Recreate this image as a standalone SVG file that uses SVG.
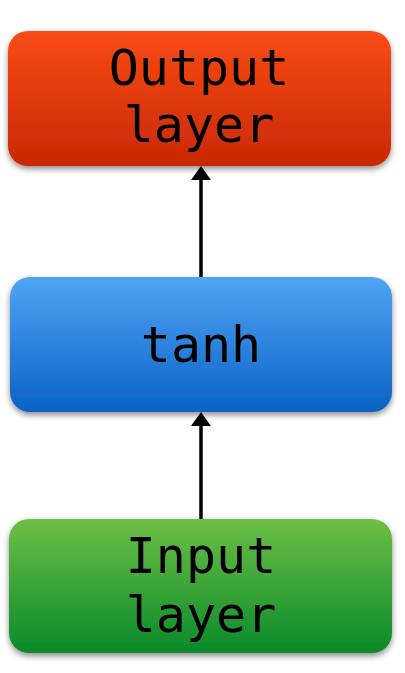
<svg xmlns="http://www.w3.org/2000/svg" width="405" height="673" viewBox="0 0 405 673">
<style>
.box{filter:url(#sh);}
.lbl{font-family:"DejaVu Sans Mono","Liberation Mono",monospace;font-size:50px;fill:#000;text-anchor:middle;}
.conn{stroke:#000;stroke-width:3.5;fill:none;marker-end:url(#ah);}
</style>
<defs>
<linearGradient id="gOut" x1="0" y1="0" x2="0" y2="1">
<stop offset="0" stop-color="#F94B15"/><stop offset="1" stop-color="#C92804"/>
</linearGradient>
<linearGradient id="gMid" x1="0" y1="0" x2="0" y2="1">
<stop offset="0" stop-color="#50A4F6"/><stop offset="1" stop-color="#0A62C4"/>
</linearGradient>
<linearGradient id="gIn" x1="0" y1="0" x2="0" y2="1">
<stop offset="0" stop-color="#6CBF45"/><stop offset="1" stop-color="#0A8A2A"/>
</linearGradient>
<filter id="sh" x="-10%" y="-10%" width="120%" height="130%">
<feGaussianBlur in="SourceAlpha" stdDeviation="3"/>
<feOffset dx="0" dy="3" result="b"/>
<feComponentTransfer><feFuncA type="linear" slope="0.45"/></feComponentTransfer>
<feMerge><feMergeNode/><feMergeNode in="SourceGraphic"/></feMerge>
</filter>
<marker id="ah" markerUnits="userSpaceOnUse" markerWidth="14" markerHeight="20" refX="10" refY="10" orient="auto" viewBox="0 0 14 20">
<path d="M0,0 L14,10 L0,20 Z" fill="#000"/>
</marker>
</defs>
<g id="connectors">
<line class="conn" x1="201" y1="277" x2="201" y2="170"/>
<line class="conn" x1="201" y1="519" x2="201" y2="416"/>
</g>
<g id="output">
<rect class="box" x="8" y="31" width="383" height="135" rx="20" fill="url(#gOut)"/>
<text class="lbl" x="199" y="85">Output</text>
<text class="lbl" x="199" y="142">layer</text>
</g>
<g id="tanh">
<rect class="box" x="10" y="277" width="382" height="135" rx="20" fill="url(#gMid)"/>
<text class="lbl" x="201" y="362">tanh</text>
</g>
<g id="input">
<rect class="box" x="9" y="519" width="383" height="134" rx="20" fill="url(#gIn)"/>
<text class="lbl" x="201" y="573">Input</text>
<text class="lbl" x="201" y="632">layer</text>
</g>
</svg>
